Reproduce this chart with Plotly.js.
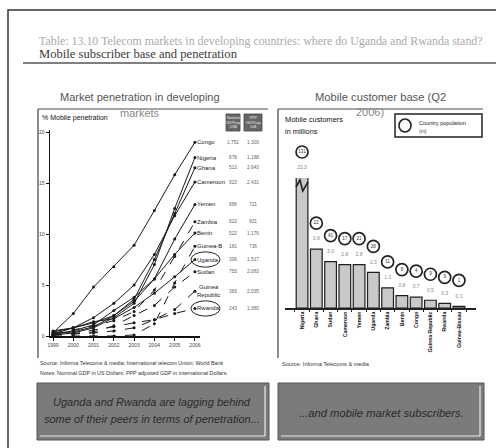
<!DOCTYPE html>
<html>
<head>
<meta charset="utf-8">
<script src="https://cdn.plot.ly/plotly-3.0.1.min.js"></script>
<style>
  html, body { margin: 0; padding: 0; background: #fff; }
  #chart { width: 496px; height: 448px; }
</style>
</head>
<body>
<div id="chart"></div>
<script>
// ---- Left panel: mobile penetration (%) by year ----
const years = [1999, 2000, 2001, 2002, 2003, 2004, 2005, 2006];
const yearTicks = ['1999', '2000', '2001', '2002', '2003', '2004', '2005', '2006'];
const penTicks = [0, 5, 10, 15, 20];

const countries = ['Congo', 'Nigeria', 'Ghana', 'Cameroon', 'Yemen', 'Zambia', 'Benin',
                   'Guinea-B', 'Uganda', 'Sudan', 'Guinea<br>Republic', 'Rwanda'];
const penCongo    = [0.3, 2.2, 4.8, 6.8, 8.9, 12.3, 15.8, 19.0];
const penNigeria  = [0.1, 0.3, 0.8, 1.8, 3.2, 7.0, 12.5, 17.5];
const penGhana    = [0.5, 0.8, 1.3, 2.0, 3.6, 7.5, 12.0, 16.5];
const penCameroon = [0.2, 0.8, 1.8, 3.2, 5.0, 8.0, 11.8, 15.1];
const penYemen    = [0.2, 0.4, 0.9, 2.0, 3.4, 5.6, 9.5, 12.9];
const penZambia   = [0.3, 0.6, 1.0, 1.5, 2.4, 4.5, 7.8, 11.2];
const penBenin    = [0.2, 0.5, 1.1, 2.5, 3.8, 5.6, 8.0, 10.1];
const penGuineaB  = [0.0, 0.0, 0.0, 0.0, 0.1, 1.2, 5.2, 8.8];
const penUganda   = [0.4, 0.8, 1.4, 1.7, 2.8, 4.2, 5.8, 7.5];
const penSudan    = [0.1, 0.2, 0.4, 1.0, 2.0, 3.0, 4.8, 6.3];
const penGuineaR  = [0.1, 0.2, 0.3, 0.5, 0.8, 1.6, 2.6, 4.4];
const penRwanda   = [0.1, 0.2, 0.6, 0.9, 1.3, 1.6, 2.2, 2.7];
const penSeries = [penCongo, penNigeria, penGhana, penCameroon, penYemen, penZambia, penBenin,
                   penGuineaB, penUganda, penSudan, penGuineaR, penRwanda];

// GDP per capita columns beside the country labels
const nominalGdp = ['1,751', '678', '513', '923', '686', '623', '522', '181', '306', '753', '383', '243'];
const pppGdp     = ['1,300', '1,188', '2,643', '2,431', '721', '931', '1,176', '736', '1,517', '2,083', '2,035', '1,380'];

// ---- Right panel: mobile customers (millions), Q2 2006 ----
const barCountries = ['Nigeria', 'Ghana', 'Sudan', 'Cameroon', 'Yemen', 'Uganda', 'Zambia',
                      'Benin', 'Congo', 'Guinea Republic', 'Rwanda', 'Guinea-Bissau'];
const subscribers = [23.3, 3.8, 3.0, 2.8, 2.8, 2.3, 1.3, 0.8, 0.7, 0.5, 0.3, 0.1];
const population  = [131, 22, 41, 17, 21, 28, 11, 8, 4, 9, 9, 1];

// ---- geometry helpers (pixel -> paper) ----
const W = 496, H = 448;
const X = px => px / W;
const Y = py => 1 - py / H;

const SANS = 'Liberation Sans, Arial, sans-serif';
const SERIF = 'Liberation Serif, Times New Roman, serif';

const penMax = 20.2;
// bar subplot: the axis stops short of Nigeria so its bar is cut
const barTopPx = 178, barBasePx = 308, ringTopPx = 140;
const barMax = 8.4;
const pxPerUnit = (barBasePx - barTopPx) / barMax;
const ringMax = (barBasePx - ringTopPx) / pxPerUnit;   // same scale, taller span

const traces = [];
const lineDash = ['solid', 'solid', 'solid', 'solid', 'solid', 'dash', 'solid', 'dash', 'solid', 'dash', 'dash', 'dash'];
penSeries.forEach((s, i) => {
  traces.push({
    type: 'scatter', mode: 'lines+markers', x: years, y: s,
    xaxis: 'x', yaxis: 'y', name: countries[i],
    line: { color: '#1a1a1a', width: 1, dash: lineDash[i] },
    marker: { color: '#1a1a1a', size: 3 },
    cliponaxis: false, hoverinfo: 'skip'
  });
});

traces.push({
  type: 'bar', x: barCountries, y: subscribers, xaxis: 'x2', yaxis: 'y2',
  marker: { color: '#c9c9c9', line: { color: '#1e1e1e', width: 1.2 } },
  hoverinfo: 'skip'
});

// population rings above each bar (value labels sit between bar and ring)
const barTop = subscribers.map(v => Math.min(v, barMax));
traces.push({
  type: 'scatter', mode: 'markers+text', xaxis: 'x2', yaxis: 'y3',
  x: barCountries,
  y: barTop.map(v => v + 26 / pxPerUnit),
  text: population.map(String),
  textposition: 'middle center',
  textfont: { family: SANS, size: 4.5, color: '#333' },
  marker: { size: 12, color: '#fff', line: { color: '#222', width: 1.7 } },
  hoverinfo: 'skip'
});
traces.push({
  type: 'scatter', mode: 'text', xaxis: 'x2', yaxis: 'y3',
  x: barCountries,
  y: barTop.map(v => v + 10 / pxPerUnit),
  text: subscribers.map(v => v.toFixed(1)),
  textposition: 'middle center',
  textfont: { family: SANS, size: 5, color: '#888' },
  hoverinfo: 'skip'
});

const ann = [];
function txt(x, y, text, opts) {
  ann.push(Object.assign({
    x: X(x), y: Y(y), xref: 'paper', yref: 'paper', text: text, showarrow: false,
    xanchor: 'left', yanchor: 'middle', font: { family: SANS, size: 6, color: '#222' }
  }, opts || {}));
}

// headings
txt(37, 41, 'Table: 13.10 Telecom markets in developing countries: where do Uganda and Rwanda stand?',
    { font: { family: SERIF, size: 11.9, color: '#ababab' } });
txt(37, 54, 'Mobile subscriber base and penetration',
    { font: { family: SERIF, size: 12.6, color: '#3a3a3a' } });
txt(140, 97, 'Market penetration in developing', { xanchor: 'center', font: { family: SANS, size: 11, color: '#555' } });
txt(140, 113, 'markets', { xanchor: 'center', font: { family: SANS, size: 11, color: '#888' } });
txt(380, 97, 'Mobile customer base (Q2', { xanchor: 'center', font: { family: SANS, size: 11.2, color: '#555' } });
txt(370, 112, '2006)', { xanchor: 'center', font: { family: SANS, size: 11, color: '#888' } });

// axis captions
txt(40, 118, '% Mobile penetration', { font: { family: SANS, size: 7, color: '#111' } });
txt(283, 120, 'Mobile customers', { font: { family: SANS, size: 7.4, color: '#111' } });
txt(283, 131, 'in millions', { font: { family: SANS, size: 7.4, color: '#111' } });
txt(417, 123, 'Country population', { font: { family: SANS, size: 5.6, color: '#222' } });
txt(417, 131, '(m)', { font: { family: SANS, size: 5, color: '#444' } });

// table headers
txt(233, 122, 'Nominal<br>GDP/cap<br>US$', { xanchor: 'center', font: { family: SANS, size: 3.6, color: '#eee' } });
txt(253, 122, 'PPP<br>GDP/cap<br>Int$', { xanchor: 'center', font: { family: SANS, size: 3.6, color: '#eee' } });

// country labels at line ends and GDP columns
penSeries.forEach((s, i) => {
  const last = s[s.length - 1];
  ann.push({ x: X(195), y: last, xref: 'paper', yref: 'y', text: countries[i], showarrow: false,
             xanchor: 'left', yanchor: 'middle', font: { family: SANS, size: 6, color: '#222' } });
  ann.push({ x: X(233), y: last, xref: 'paper', yref: 'y', text: nominalGdp[i], showarrow: false,
             xanchor: 'center', yanchor: 'middle', font: { family: SANS, size: 4.8, color: '#666' } });
  ann.push({ x: X(253), y: last, xref: 'paper', yref: 'y', text: pppGdp[i], showarrow: false,
             xanchor: 'center', yanchor: 'middle', font: { family: SANS, size: 4.8, color: '#666' } });
});

// sources
txt(38, 363, 'Source: Informa Telecoms &amp; media; International telecom Union; World Bank',
    { font: { family: SANS, size: 5.4, color: '#333' } });
txt(38, 373, 'Notes: Nominal GDP in US Dollars; PPP adjusted GDP in international Dollars.',
    { font: { family: SANS, size: 5.4, color: '#333' } });
txt(280, 364, 'Source: Informa Telecoms &amp; media', { font: { family: SANS, size: 5.6, color: '#333' } });

// conclusion boxes
txt(152, 402, '<i>Uganda and Rwanda are lagging behind</i>', { xanchor: 'center', font: { family: SANS, size: 11, color: '#2a2a2a' } });
txt(152, 419, '<i>some of their peers in terms of penetration...</i>', { xanchor: 'center', font: { family: SANS, size: 11, color: '#2a2a2a' } });
txt(381, 413, '<i>...and mobile market subscribers.</i>', { xanchor: 'center', font: { family: SANS, size: 11.2, color: '#2a2a2a' } });

const shapes = [];
function rect(x0, y0, x1, y1, opts) {
  shapes.push(Object.assign({ type: 'rect', xref: 'paper', yref: 'paper',
    x0: X(x0), x1: X(x1), y0: Y(y0), y1: Y(y1) }, opts));
}
function seg(x0, y0, x1, y1, color, width) {
  shapes.push({ type: 'line', xref: 'paper', yref: 'paper', x0: X(x0), x1: X(x1), y0: Y(y0), y1: Y(y1),
                line: { color: color, width: width } });
}

rect(8, 10, 505, 460, { line: { color: '#333', width: 1.5 } });
seg(23, 63, 496, 63, '#555', 1.6);
seg(38, 109, 268, 109, '#888', 1.5);
seg(38, 109, 38, 358, '#666', 1.5);
seg(278, 109, 483, 109, '#888', 1.5);
seg(278, 109, 278, 358, '#666', 1.5);
rect(226, 114, 240, 131, { fillcolor: '#666', line: { color: '#444', width: 0.8 } });
rect(244, 114, 262, 131, { fillcolor: '#666', line: { color: '#444', width: 0.8 } });
rect(395, 114, 482, 137, { line: { color: '#222', width: 1.5 } });
shapes.push({ type: 'circle', xref: 'paper', yref: 'paper', x0: X(399), x1: X(411), y0: Y(119), y1: Y(132),
              line: { color: '#222', width: 1.6 } });

// conclusion panels
rect(37, 383, 269, 440, { fillcolor: '#7b7b7b', line: { color: '#555', width: 1 } });
seg(265, 386, 265, 436, '#ececec', 1.2);
seg(40, 436, 265, 436, '#ececec', 1.2);
rect(278, 383, 484, 440, { fillcolor: '#7b7b7b', line: { color: '#555', width: 1 } });
seg(480, 386, 480, 436, '#ececec', 1.2);
seg(281, 436, 480, 436, '#ececec', 1.2);

// highlight rings round Uganda and Rwanda
const ugIdx = countries.indexOf('Uganda'), rwIdx = countries.indexOf('Rwanda');
[ugIdx, rwIdx].forEach(i => {
  const last = penSeries[i][penSeries[i].length - 1];
  shapes.push({ type: 'circle', xref: 'paper', yref: 'y', x0: X(191), x1: X(220),
                y0: last - 0.75, y1: last + 0.75, line: { color: '#222', width: 1 } });
});

// break mark on the cut Nigeria bar
shapes.push({ type: 'path', xref: 'x2', yref: 'paper',
              path: `M -0.42,${Y(187)} L -0.15,${Y(180)} L 0.05,${Y(191)} L 0.42,${Y(182)}`,
              line: { color: '#222', width: 1.6 } });

const layout = {
  width: W, height: H,
  margin: { l: 0, r: 0, t: 0, b: 0 },
  paper_bgcolor: '#fff', plot_bgcolor: 'rgba(0,0,0,0)',
  showlegend: false,
  bargap: 0.18,
  xaxis: {
    domain: [X(50), X(200)], range: [1998.85, 2006.25],
    tickvals: years, ticktext: yearTicks,
    showgrid: false, zeroline: false, showline: true, linecolor: '#111', linewidth: 1.5,
    ticks: 'outside', ticklen: 3, tickcolor: '#111',
    tickfont: { family: SANS, size: 5, color: '#444' }, anchor: 'y'
  },
  yaxis: {
    domain: [Y(336), Y(130)], range: [0, penMax],
    tickvals: penTicks,
    showgrid: false, zeroline: false, showline: true, linecolor: '#111', linewidth: 1.5,
    ticks: 'outside', ticklen: 3, tickcolor: '#111',
    tickfont: { family: SANS, size: 5, color: '#444' }, anchor: 'x'
  },
  xaxis2: {
    domain: [X(285), X(476)], type: 'category',
    showgrid: false, zeroline: false, showline: true, linecolor: '#222', linewidth: 1.5,
    ticks: 'outside', ticklen: 2, tickcolor: '#222', tickson: 'boundaries',
    tickangle: -90, tickfont: { family: SANS, size: 5.2, color: '#111', weight: 'bold' }, anchor: 'y2'
  },
  yaxis2: {
    domain: [Y(barBasePx), Y(barTopPx)], range: [0, barMax],
    visible: false, anchor: 'x2'
  },
  yaxis3: {
    domain: [Y(barBasePx), Y(ringTopPx)], range: [0, ringMax],
    visible: false, anchor: 'x2'
  },
  annotations: ann,
  shapes: shapes
};

Plotly.newPlot('chart', traces, layout, { displayModeBar: false, staticPlot: true });
</script>
</body>
</html>
